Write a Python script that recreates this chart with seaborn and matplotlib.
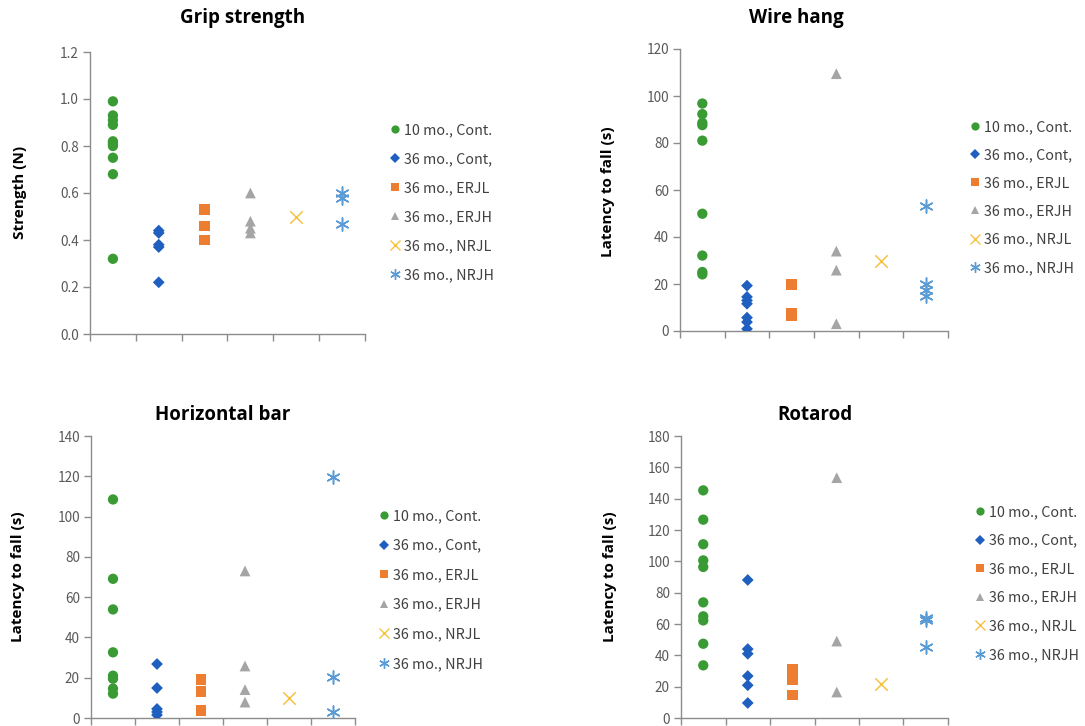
import matplotlib
matplotlib.use("Agg")
import matplotlib.pyplot as plt
from matplotlib.lines import Line2D
import seaborn as sns
import pandas as pd

# ---------------- data ----------------
groups = ["10 mo., Cont.", "36 mo., Cont,", "36 mo., ERJL", "36 mo., ERJH", "36 mo., NRJL", "36 mo., NRJH"]

grip_10_cont = [0.99, 0.93, 0.91, 0.89, 0.82, 0.81, 0.80, 0.75, 0.68, 0.32]
grip_36_cont = [0.44, 0.43, 0.38, 0.37, 0.22]
grip_36_erjl = [0.53, 0.46, 0.40]
grip_36_erjh = [0.60, 0.48, 0.45, 0.43]
grip_36_nrjl = [0.50]
grip_36_nrjh = [0.60, 0.58, 0.47]

wire_10_cont = [96.8, 92.3, 88.6, 87.6, 81.0, 49.9, 32.1, 25.1, 24.1]
wire_36_cont = [19.3, 14.5, 13.0, 11.6, 5.7, 3.8, 0.9]
wire_36_erjl = [19.9, 7.7, 6.4]
wire_36_erjh = [109.5, 34.0, 25.9, 3.1]
wire_36_nrjl = [29.8]
wire_36_nrjh = [53.3, 20.2, 17.4, 14.8]

hbar_10_cont = [108.5, 69.1, 53.9, 32.6, 21.0, 19.5, 14.6, 12.1]
hbar_36_cont = [26.8, 14.9, 4.5, 3.0, 1.5]
hbar_36_erjl = [19.2, 13.2, 3.8]
hbar_36_erjh = [73.0, 25.8, 14.1, 7.9]
hbar_36_nrjl = [9.8]
hbar_36_nrjh = [119.6, 20.2, 3.0]

rota_10_cont = [145.3, 126.6, 110.9, 100.6, 96.4, 73.8, 64.9, 62.3, 47.4, 33.6]
rota_36_cont = [88.1, 44.0, 41.0, 26.8, 20.9, 9.6]
rota_36_erjl = [31.0, 28.0, 24.5, 14.7]
rota_36_erjh = [153.4, 49.1, 16.6]
rota_36_nrjl = [21.9]
rota_36_nrjh = [63.8, 62.8, 45.3]

titles = ["Grip strength", "Wire hang", "Horizontal bar", "Rotarod"]
ylabels = ["Strength (N)", "Latency to fall (s)", "Latency to fall (s)", "Latency to fall (s)"]
ymaxes = [1.2, 120, 140, 180]
ysteps = [0.2, 20, 20, 20]

panels = [
    [grip_10_cont, grip_36_cont, grip_36_erjl, grip_36_erjh, grip_36_nrjl, grip_36_nrjh],
    [wire_10_cont, wire_36_cont, wire_36_erjl, wire_36_erjh, wire_36_nrjl, wire_36_nrjh],
    [hbar_10_cont, hbar_36_cont, hbar_36_erjl, hbar_36_erjh, hbar_36_nrjl, hbar_36_nrjh],
    [rota_10_cont, rota_36_cont, rota_36_erjl, rota_36_erjh, rota_36_nrjl, rota_36_nrjh],
]

# ---------------- style ----------------
colors = ["#3A9B35", "#1F5FBF", "#ED7D31", "#A5A5A5", "#F7C142", "#5B9BD5"]
markers = ["o", "D", "s", "^", "x", (6, 2, 0)]
sizes = [55, 36, 60, 60, 80, 90]

sns.set_theme(style="white")
plt.rcParams["font.family"] = ["Noto Sans CJK JP", "DejaVu Sans"]

W, H = 1085, 726
fig = plt.figure(figsize=(W / 100, H / 100), dpi=100)

# axes rectangles in pixel coordinates: left, top, right, bottom
rects = [(90, 52, 365, 334), (680, 49, 948, 331), (91, 436, 355, 718), (681, 436, 948, 718)]
title_pos = [(243, 18), (796, 18), (223, 415), (815, 415)]
ylabel_pos = [(20, 192), (608, 192), (18, 577), (610, 577)]
legend_pos = [(391, 123), (971, 120), (380, 509), (976, 505)]
legend_spacing = [1.05, 0.99, 1.09, 1.02]

for i in range(4):
    l, t, r, b = rects[i]
    ax = fig.add_axes([l / W, 1 - b / H, (r - l) / W, (b - t) / H])
    for g, vals in enumerate(panels[i]):
        df = pd.DataFrame({"group": pd.Categorical([groups[g]] * len(vals), categories=groups),
                           "value": vals})
        df["pos"] = df["group"].cat.codes
        filled = markers[g] not in ("x", (6, 2, 0))
        kw = dict(color=colors[g], marker=markers[g], s=sizes[g], zorder=3)
        if filled:
            kw.update(edgecolor="none", linewidth=0)
        else:
            kw.update(linewidth=1.1)
        sns.scatterplot(data=df, x="pos", y="value", ax=ax, legend=False, **kw)
    ax.set_xlim(-0.5, len(groups) - 0.5)
    ax.set_xticks([k - 0.5 for k in range(len(groups) + 1)])
    ax.set_xticklabels([])
    ax.set_ylim(0, ymaxes[i])
    nt = int(round(ymaxes[i] / ysteps[i]))
    yt = [k * ysteps[i] for k in range(nt + 1)]
    ax.set_yticks(yt)
    if i == 0:
        ax.set_yticklabels([f"{v:.1f}" for v in yt])
    else:
        ax.set_yticklabels([f"{int(round(v))}" for v in yt])
    ax.set_xlabel("")
    ax.set_ylabel("")
    for s in ["top", "right"]:
        ax.spines[s].set_visible(False)
    for s in ["left", "bottom"]:
        ax.spines[s].set_color("#8C8C8C")
        ax.spines[s].set_linewidth(1.0)
    ax.tick_params(axis="both", which="both", direction="out", length=5, width=1.0,
                   color="#8C8C8C", labelcolor="#595959", labelsize=9.8, pad=3,
                   left=True, bottom=True)
    ax.set_facecolor("white")

    # title and y label
    fig.text(title_pos[i][0] / W, 1 - title_pos[i][1] / H, titles[i], ha="center", va="center",
             fontsize=13.5, fontweight="bold", color="#000000", family=["Open Sans", "DejaVu Sans"])
    fig.text(ylabel_pos[i][0] / W, 1 - ylabel_pos[i][1] / H, ylabels[i], ha="center", va="center",
             rotation=90, fontsize=11, fontweight="bold", color="#000000",
             family=["Open Sans", "DejaVu Sans"])

    # legend
    handles = []
    for g in range(len(groups)):
        filled = markers[g] not in ("x", (6, 2, 0))
        msz = (sizes[g] ** 0.5) * 0.8
        if filled:
            h = Line2D([], [], linestyle="none", marker=markers[g], color=colors[g],
                       markeredgewidth=0, markersize=msz)
        else:
            h = Line2D([], [], linestyle="none", marker=markers[g], color=colors[g],
                       markeredgewidth=1.0, markersize=msz)
        handles.append(h)
    lx, ly = legend_pos[i]
    leg = ax.legend(handles, groups, loc="upper left",
                    bbox_to_anchor=(lx / W, 1 - ly / H), bbox_transform=fig.transFigure,
                    frameon=False, fontsize=10.3, handlelength=0.6, handletextpad=0.3,
                    labelspacing=legend_spacing[i], borderpad=0, borderaxespad=0)
    for txt in leg.get_texts():
        txt.set_color("#404040")

fig.savefig("out.png", dpi=100, facecolor="white")
